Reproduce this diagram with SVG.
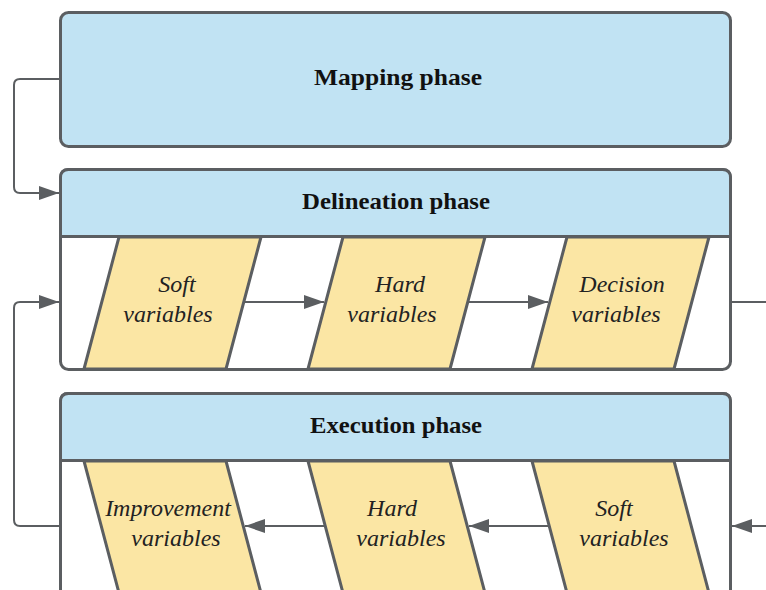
<svg xmlns="http://www.w3.org/2000/svg" width="766" height="590" viewBox="0 0 766 590">
<defs>
<style>
.box{fill:#c1e3f3;stroke:#5b5e61;stroke-width:3}
.body{fill:#ffffff;stroke:#5b5e61;stroke-width:3}
.par{fill:#fbe6a4;stroke:#5b5e61;stroke-width:3;stroke-linejoin:round}
.ttl{font-family:"Liberation Serif",serif;font-weight:bold;font-size:24px;fill:#111;text-anchor:middle}
.lbl{font-family:"Liberation Serif",serif;font-style:italic;font-size:24px;fill:#222;text-anchor:middle}
.con{fill:none;stroke:#5b5e61;stroke-width:2}
</style>
<marker id="ahb" viewBox="0 0 20 14" refX="20" refY="7" markerWidth="20" markerHeight="14" markerUnits="userSpaceOnUse" orient="auto">
<path d="M0,0 L20,7 L0,14 z" fill="#5b5e61"/>
</marker>
</defs>

<g id="mapping">
<rect class="box" x="60.5" y="12.5" width="670" height="134" rx="8"/>
<text class="ttl" x="398" y="85" textLength="168" lengthAdjust="spacingAndGlyphs">Mapping phase</text>
</g>

<g id="delineation">
<rect class="body" x="60.5" y="169.5" width="670" height="200" rx="8"/>
<path class="box" d="M60.5,236.5 V177.5 Q60.5,169.5 68.5,169.5 H722.5 Q730.5,169.5 730.5,177.5 V236.5 Z"/>
<text class="ttl" x="396" y="209" textLength="188" lengthAdjust="spacingAndGlyphs">Delineation phase</text>
</g>

<g id="execution">
<path class="body" d="M60.5,600 V401.5 Q60.5,393.5 68.5,393.5 H722.5 Q730.5,393.5 730.5,401.5 V600"/>
<path class="box" d="M60.5,460.5 V401.5 Q60.5,393.5 68.5,393.5 H722.5 Q730.5,393.5 730.5,401.5 V460.5 Z"/>
<text class="ttl" x="396" y="433" textLength="172" lengthAdjust="spacingAndGlyphs">Execution phase</text>
</g>

<g id="d-soft">
<path class="par" d="M119,237 H261 L226,369 H84 Z"/>
<text class="lbl" x="177" y="292">Soft</text>
<text class="lbl" x="168" y="322">variables</text>
</g>
<g id="d-hard">
<path class="par" d="M343,237 H485 L450,369 H308 Z"/>
<text class="lbl" x="400" y="292">Hard</text>
<text class="lbl" x="392" y="322">variables</text>
</g>
<g id="d-decision">
<path class="par" d="M567,237 H709 L674,369 H532 Z"/>
<text class="lbl" x="622" y="292">Decision</text>
<text class="lbl" x="616" y="322">variables</text>
</g>

<g id="e-improvement">
<path class="par" d="M84,461 H226 L261,593 H119 Z"/>
<text class="lbl" x="168" y="516">Improvement</text>
<text class="lbl" x="176" y="546">variables</text>
</g>
<g id="e-hard">
<path class="par" d="M308,461 H450 L485,593 H343 Z"/>
<text class="lbl" x="392" y="516">Hard</text>
<text class="lbl" x="401" y="546">variables</text>
</g>
<g id="e-soft">
<path class="par" d="M532,461 H674 L709,593 H567 Z"/>
<text class="lbl" x="614" y="516">Soft</text>
<text class="lbl" x="624" y="546">variables</text>
</g>

<g id="connectors">
<path class="con" d="M60,79 H20 Q14,79 14,85 V187 Q14,193 20,193 H59" marker-end="url(#ahb)"/>
<path class="con" d="M244,302 H324" marker-end="url(#ahb)"/>
<path class="con" d="M468,302 H548" marker-end="url(#ahb)"/>
<path class="con" d="M731,302 H766"/>
<path class="con" d="M766,526 H732" marker-end="url(#ahb)"/>
<path class="con" d="M549,526 H469" marker-end="url(#ahb)"/>
<path class="con" d="M325,526 H245" marker-end="url(#ahb)"/>
<path class="con" d="M60,526 H20 Q14,526 14,520 V308 Q14,302 20,302 H59" marker-end="url(#ahb)"/>
</g>
</svg>
